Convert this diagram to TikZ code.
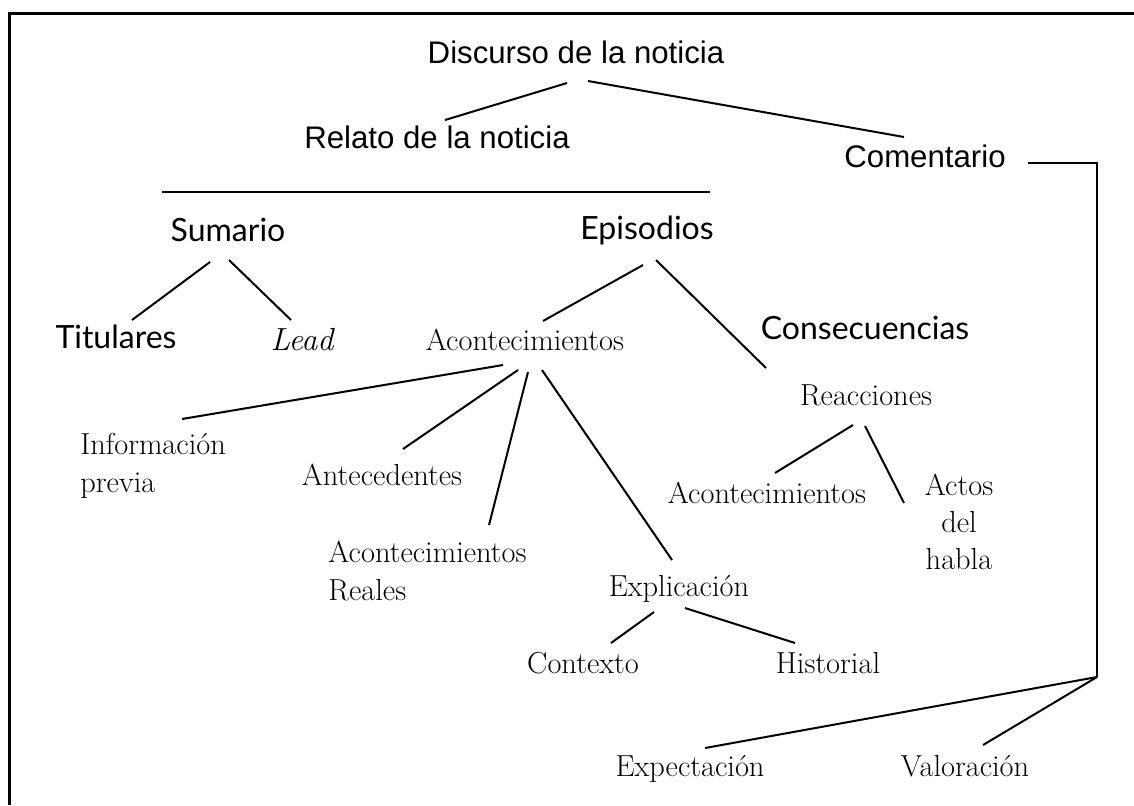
\documentclass[tikz,border=0pt]{standalone}
\usepackage{fontspec}
\newfontfamily\hvfont{Liberation Sans}
\newfontfamily\gillfont{Lato}
\usetikzlibrary{calc}

\begin{document}
\begin{tikzpicture}[x=0.5pt, y=-0.5pt,
		hvlab/.style={font=\hvfont\fontsize{15.6}{19}\selectfont, inner sep=0pt, anchor=mid},
		gilllab/.style={font=\gillfont\fontsize{16}{19}\selectfont, inner sep=0pt, anchor=mid},
		serlab/.style={font=\fontsize{15.2}{19}\selectfont, inner sep=0pt, anchor=mid},
		serblock/.style={font=\fontsize{15.2}{19}\selectfont, inner sep=0pt, align=left, anchor=north west},
		ln/.style={line width=1pt},
		]
		\useasboundingbox (0,0) rectangle (1134,805);
		\draw[line width=1.5pt] (9.5,805) -- (9.5,13.5) -- (1134,13.5);
		
		\node[hvlab] (disc) at (576, 59) {Discurso de la noticia};
		\node[hvlab] (relato) at (437, 144) {Relato de la noticia};
		\node[hvlab] (coment) at (925, 163) {Comentario};
		\coordinate (barl) at (162, 192);
		\coordinate (barr) at (710, 192);
		\coordinate (cjoin) at (1097, 677);
		\draw[ln] (barl) -- (barr);
		\draw[ln] ($(disc.mid)+(-9,24)$) -- ($(relato.mid)+(8,-24)$);
		\draw[ln] ($(disc.mid)+(12,22)$) -- ($(coment.mid)+(-21,-26)$);
		\draw[ln] ($(coment.mid)+(103,0)$) -| (cjoin);
		
		\node[gilllab] (sum) at (228, 237) {Sumario};
		\node[gilllab] (epis) at (647, 235) {Episodios};
		\node[gilllab] (titul) at (116, 344) {Titulares};
		\node[serlab, font=\fontsize{16}{19}\selectfont\itshape] (lead) at (302, 346) {Lead};
		\node[serlab] (acont) at (525, 346) {Acontecimientos};
		\node[gilllab] (consec) at (865, 335) {Consecuencias};
		\node[serlab] (reacc) at (866, 401) {Reacciones};
		\draw[ln] ($(sum.mid)+(-18,25)$) -- ($(titul.mid)+(16,-24)$);
		\draw[ln] ($(sum.mid)+(1,23)$) -- ($(lead.mid)+(-11,-26)$);
		\draw[ln] ($(epis.mid)+(-4,30)$) -- ($(acont.mid)+(18,-25)$);
		\draw[ln] ($(epis.mid)+(9,25)$) -- ($(consec.mid)+(-99,33)$);
		
		\node[serblock] (info) at (80, 433) {Información\\previa};
		\node[serlab] (antec) at (382, 481) {Antecedentes};
		\node[serblock] (reales) at (328, 541) {Acontecimientos\\Reales};
		\node[serlab] (explic) at (679, 592) {Explicación};
		\node[serlab] (acont2) at (767, 499) {Acontecimientos};
		\node[serblock, font=\fontsize{15.2}{18.5}\selectfont, align=center, anchor=north] (actos) at (959, 474) {Actos\\del\\habla};
		\draw[ln] ($(acont.mid)+(-22,19)$) -- ($(info.north west)+(102,-14)$);
		\draw[ln] ($(acont.mid)+(-7,24)$) -- ($(antec.mid)+(21,-32)$);
		\draw[ln] ($(acont.mid)+(3,26)$) -- ($(reales.north west)+(161,-16)$);
		\draw[ln] ($(acont.mid)+(17,24)$) -- ($(explic.mid)+(-7,-32)$);
		\draw[ln] ($(reacc.mid)+(-13,24)$) -- ($(acont2.mid)+(8,-26)$);
		\draw[ln] ($(reacc.mid)+(-1,25)$) -- ($(actos.north)+(-55,29)$);
		
		\node[serlab] (context) at (583, 669) {Contexto};
		\node[serlab] (histor) at (828, 669) {Historial};
		\draw[ln] ($(explic.mid)+(-25,20)$) -- ($(context.mid)+(28,-26)$);
		\draw[ln] ($(explic.mid)+(6,16)$) -- ($(histor.mid)+(-33,-26)$);
		
		\node[serlab] (expect) at (690, 772) {Expectación};
		\node[serlab] (valor) at (965, 772) {Valoración};
		\draw[ln] (cjoin) -- ($(expect.mid)+(15,-24)$);
		\draw[ln] (cjoin) -- ($(valor.mid)+(18,-27)$);
		
\end{tikzpicture}
\end{document}
